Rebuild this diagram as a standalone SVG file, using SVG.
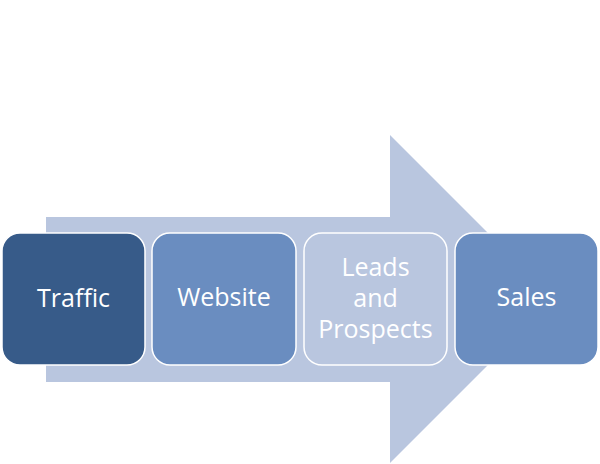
<svg xmlns="http://www.w3.org/2000/svg" width="600" height="464" viewBox="0 0 600 464">
<style>
.box{stroke:#ffffff;stroke-width:1.5}
.lbl{font-family:"Open Sans","Liberation Sans",sans-serif;font-size:25px;fill:#ffffff;text-anchor:middle}
</style>
<rect width="600" height="464" fill="#ffffff"/>
<g id="arrow">
<polygon points="46,217 390,217 390,135 554,299 390,463 390,382 46,382" fill="#b9c6df"/>
</g>
<g id="connectors"></g>
<g id="traffic">
<rect class="box" x="2" y="233" width="143" height="132" rx="18" fill="#375b89"/>
<text class="lbl" x="73.5" y="307">Traffic</text>
</g>
<g id="website">
<rect class="box" x="152" y="233" width="144" height="132" rx="18" fill="#6a8dc0"/>
<text class="lbl" x="224" y="306">Website</text>
</g>
<g id="leads">
<rect class="box" x="304" y="233" width="143" height="132" rx="18" fill="#b9c6df"/>
<text class="lbl" x="375.5" y="276">Leads</text>
<text class="lbl" x="375.5" y="307">and</text>
<text class="lbl" x="375.5" y="338">Prospects</text>
</g>
<g id="sales">
<rect class="box" x="455" y="233" width="143" height="132" rx="18" fill="#6a8dc0"/>
<text class="lbl" x="526.5" y="306">Sales</text>
</g>
</svg>
